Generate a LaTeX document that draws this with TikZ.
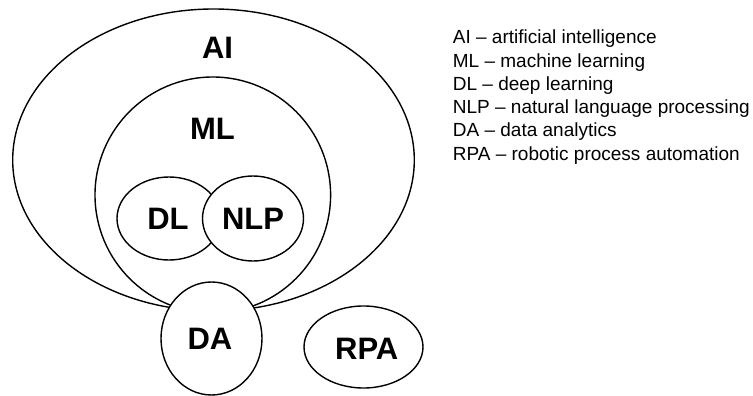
\documentclass[tikz,border=0pt]{standalone}
\usepackage{fontspec}
\setmainfont{Liberation Sans}
\usetikzlibrary{shapes.geometric}
\begin{document}
\begin{tikzpicture}[x=1pt,y=-1pt,
  blob/.style={ellipse,draw,line width=1.4pt,fill=white,inner sep=0pt},
  big/.style={font=\fontsize{31}{36}\selectfont\bfseries,inner sep=0pt},
  legend/.style={font=\fontsize{19}{23}\selectfont,anchor=base west,inner sep=0pt}]
\useasboundingbox (0,0) rectangle (753,396);
\node[blob,minimum width=401.6pt,minimum height=302pt] (ai) at (213.5,160) {};
\node[blob,minimum width=235.6pt,minimum height=236pt] (ml) at (212.8,195) {};
\node[blob,minimum width=104pt,minimum height=83pt] (dl) at (169,218.5) {};
\node[blob,minimum width=101pt,minimum height=85pt] (nlp) at (253,218.5) {};
\node[blob,minimum width=101pt,minimum height=113pt] (da) at (211.5,338.5) {};
\node[blob,minimum width=119pt,minimum height=82pt] (rpa) at (363.5,347) {};
\node[big] (tai) at (217.5,47.5) {AI};
\node[big] (tml) at (212.5,128.5) {ML};
\node[big] (tdl) at (168,218.5) {DL};
\node[big] (tnlp) at (253,218.5) {NLP};
\node[big] (tda) at (210,338.7) {DA};
\node[big] (trpa) at (366.7,348.5) {RPA};
\node[legend] (l1) at (452.7,44) {AI -- artificial intelligence};
\node[legend] (l2) at (452.7,67.2) {ML -- machine learning};
\node[legend] (l3) at (452.7,90.4) {DL -- deep learning};
\node[legend] (l4) at (452.7,113.6) {NLP -- natural language processing};
\node[legend] (l5) at (452.7,136.8) {DA -- data analytics};
\node[legend] (l6) at (452.7,160) {RPA -- robotic process automation};
\end{tikzpicture}
\end{document}
